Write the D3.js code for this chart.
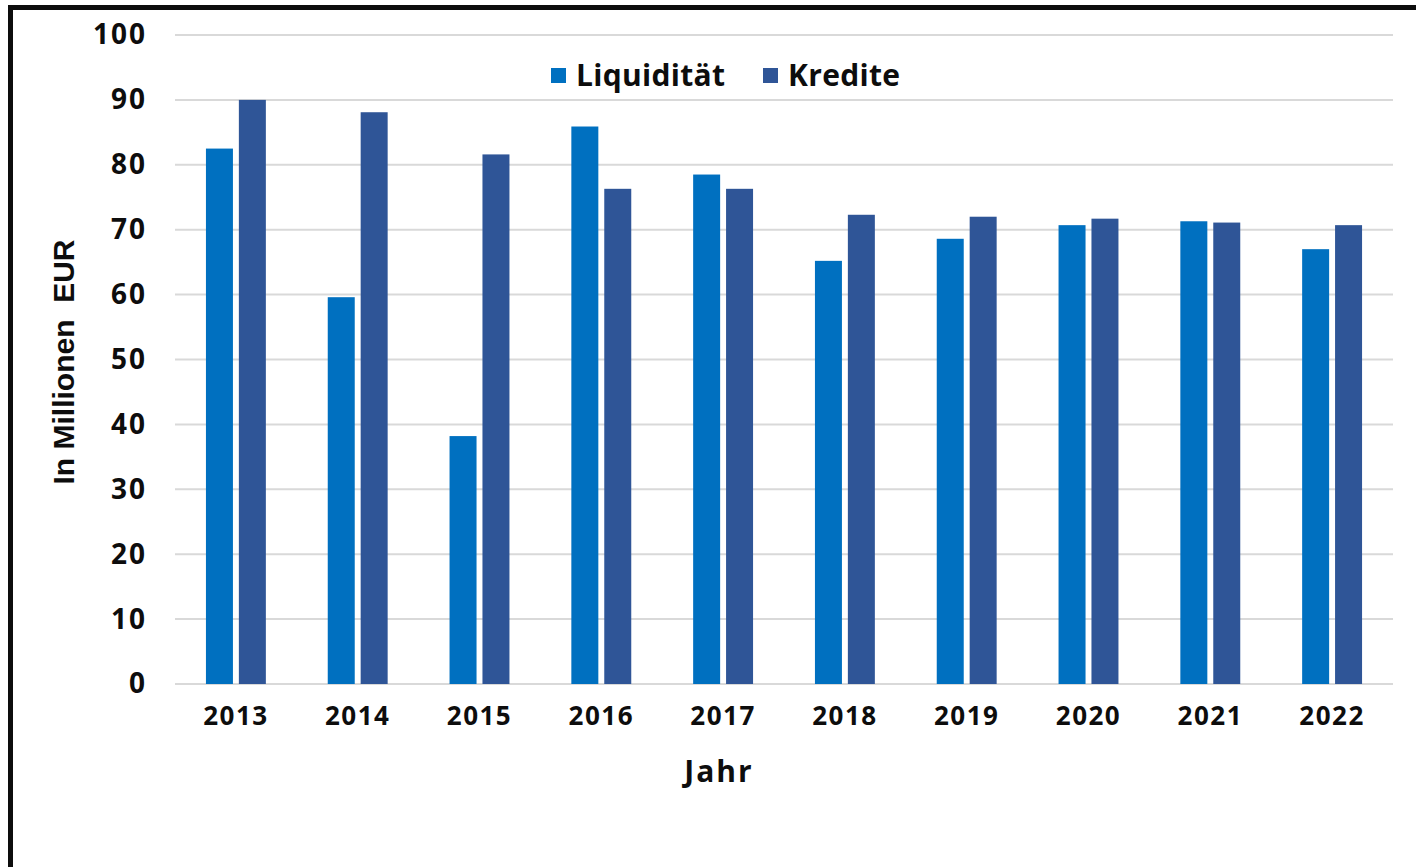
<!DOCTYPE html>
<html lang="de">
<head>
    <meta charset="UTF-8">
    <title>Liquidität und Kredite</title>
    <script src="https://d3js.org/d3.v7.min.js"></script>
    <style>
        body { margin: 0; background: #fff; }
        text { font-family: "Open Sans", "DejaVu Sans", sans-serif; font-weight: 700; fill: #0d0d0d; }
    </style>
</head>
<body>
    <svg width="1416" height="867"></svg>
    <script>
        // Werte (Millionen EUR)
        const jahre = ["2013", "2014", "2015", "2016", "2017", "2018", "2019", "2020", "2021", "2022"];
        const liquiditaet = [82.5, 59.6, 38.2, 85.9, 78.5, 65.2, 68.6, 70.7, 71.3, 67.0];
        const kredite = [90.0, 88.1, 81.6, 76.3, 76.3, 72.3, 72.0, 71.7, 71.1, 70.7];
        const serien = ["Liquidität", "Kredite"];
        const farben = ["#0070C0", "#2F5597"];
        const yTicks = [0, 10, 20, 30, 40, 50, 60, 70, 80, 90, 100];

        const width = 1416, height = 867;
        const margin = {top: 35, right: 23, bottom: 183, left: 175};

        const svg = d3.select("svg");

        // Rahmen
        svg.append("rect")
            .attr("x", 10.5).attr("y", 7.5)
            .attr("width", 1430).attr("height", 900)
            .attr("fill", "none")
            .attr("stroke", "#0d0d0d")
            .attr("stroke-width", 5);

        const x = d3.scaleBand()
            .domain(jahre)
            .range([margin.left, width - margin.right])
            .paddingInner(0).paddingOuter(0);

        const xSub = d3.scaleBand()
            .domain(serien)
            .range([0, x.bandwidth()])
            .paddingInner(0.18)
            .paddingOuter(0.94);

        const y = d3.scaleLinear()
            .domain([0, 100])
            .range([height - margin.bottom, margin.top]);

        // Gitterlinien
        svg.append("g")
            .selectAll("line")
            .data(yTicks)
            .join("line")
            .attr("x1", margin.left)
            .attr("x2", width - margin.right)
            .attr("y1", d => y(d))
            .attr("y2", d => y(d))
            .attr("stroke", "#d9d9d9")
            .attr("stroke-width", 2);

        // Balken
        const rows = jahre.map((j, i) => ({jahr: j, werte: [liquiditaet[i], kredite[i]]}));
        svg.append("g")
            .selectAll("g")
            .data(rows)
            .join("g")
            .attr("transform", d => `translate(${x(d.jahr)},0)`)
            .selectAll("rect")
            .data(d => d.werte.map((v, k) => ({serie: serien[k], v: v, k: k})))
            .join("rect")
            .attr("x", d => xSub(d.serie))
            .attr("width", xSub.bandwidth())
            .attr("y", d => y(d.v))
            .attr("height", d => y(0) - y(d.v))
            .attr("fill", d => farben[d.k]);

        // Achsen
        const yAxis = svg.append("g")
            .attr("transform", `translate(${margin.left},0)`)
            .call(d3.axisLeft(y).tickValues(yTicks).tickSize(0).tickPadding(28));
        yAxis.select(".domain").remove();
        yAxis.selectAll("text")
            .style("font-size", "28px")
            .style("letter-spacing", "2px");

        const xAxis = svg.append("g")
            .attr("transform", `translate(0,${y(0)})`)
            .call(d3.axisBottom(x).tickSize(0).tickPadding(23));
        xAxis.select(".domain").remove();
        xAxis.selectAll("text")
            .style("font-size", "26px")
            .style("letter-spacing", "1.5px");

        // Achsentitel
        svg.append("text")
            .attr("x", 719).attr("y", 782)
            .attr("text-anchor", "middle")
            .style("font-size", "30px")
            .style("letter-spacing", "2px")
            .text("Jahr");

        svg.append("text")
            .attr("transform", "translate(74,362) rotate(-90)")
            .attr("text-anchor", "middle")
            .style("font-family", "'Liberation Sans', Arial, sans-serif")
            .style("font-size", "30px")
            .style("white-space", "pre")
            .text("In Millionen  EUR");

        // Legende
        const legX = [551, 763];
        const leg = svg.append("g")
            .selectAll("g")
            .data(serien)
            .join("g")
            .attr("transform", (d, i) => `translate(${legX[i]},68)`);
        leg.append("rect")
            .attr("width", 15).attr("height", 15)
            .attr("fill", (d, i) => farben[i]);
        leg.append("text")
            .attr("x", 25).attr("y", 18)
            .style("font-size", "30px")
            .style("letter-spacing", "0.3px")
            .text(d => d);
    </script>
</body>
</html>
